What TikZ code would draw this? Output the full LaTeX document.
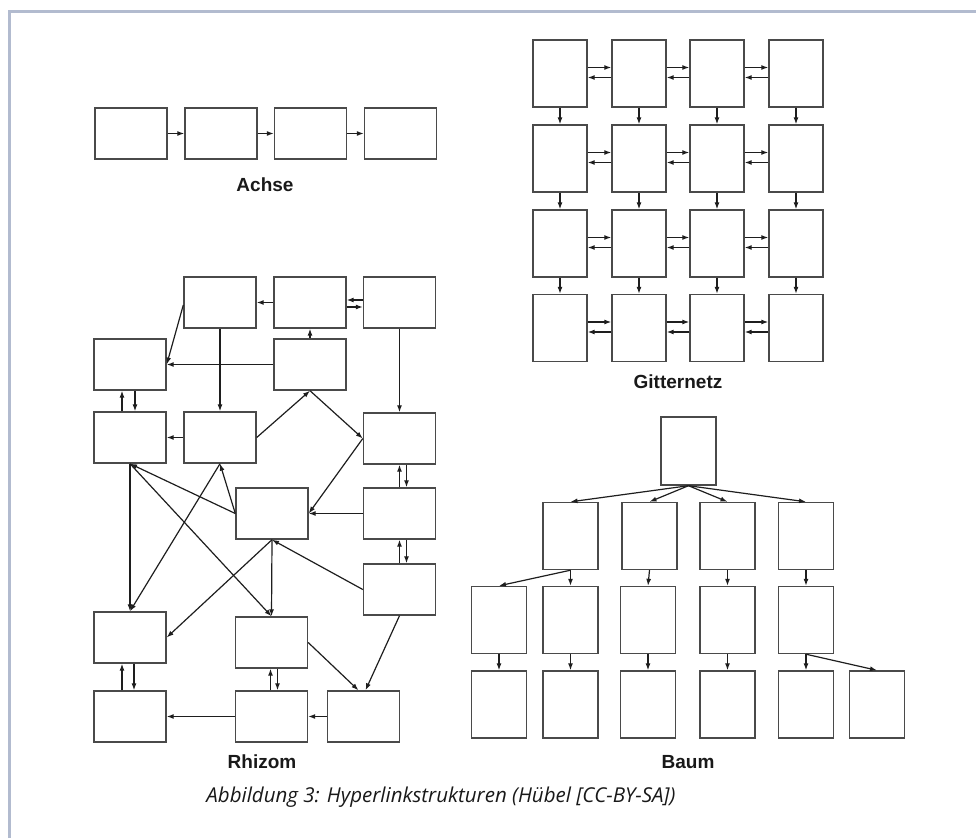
\documentclass[tikz,border=0pt]{standalone}
\usepackage{fontspec}
\usetikzlibrary{arrows.meta}
\newfontfamily\labelfont{Liberation Sans}
\newfontfamily\captionfont{Open Sans}
\definecolor{framecol}{HTML}{B2BBCF}
\definecolor{boxcol}{HTML}{4A4A4A}
\definecolor{arrcol}{HTML}{1E1E1E}

\begin{document}
\begin{tikzpicture}[x=1pt,y=-1pt,
    title/.style={font=\labelfont\bfseries\fontsize{19}{22}\selectfont, text=black!90},
    every edge/.style={draw=arrcol, line width=1.2pt, -{Latex[length=7pt,width=5pt]}}]

  \useasboundingbox (0,0) rectangle (976,838);
  \draw[framecol, line width=3pt] (9.5,838) -- (9.5,11.5) -- (976,11.5);

  % Achse
  \begin{scope}[every node/.style={draw=boxcol, line width=1.4pt, minimum width=72pt, minimum height=51pt}]
    \node (a1) at (131,133.5)   {};
    \node (a2) at (221,133.5)   {};
    \node (a3) at (310.5,133.5) {};
    \node (a4) at (400.5,133.5) {};
  \end{scope}
  \path (a1) edge (a2)
        (a2) edge (a3)
        (a3) edge (a4);
  \node[title] (achse) at (265,185) {Achse};

  % Gitternetz
  \begin{scope}[every node/.style={draw=boxcol, line width=1.4pt, minimum width=54pt, minimum height=67pt}]
    \foreach \r/\y in {1/73.5,2/158.5,3/243.5,4/328}
      \foreach \c/\x in {1/560,2/639,3/717,4/796}
        \node (g\r\c) at (\x,\y) {};
  \end{scope}
  \foreach \r in {1,...,4}
    \foreach \c/\n in {1/2,2/3,3/4} {
      \path ([yshift=6pt]g\r\c.east) edge ([yshift=6pt]g\r\n.west);
      \path ([yshift=-4pt]g\r\n.west) edge ([yshift=-4pt]g\r\c.east);
    }
  \foreach \r/\n in {1/2,2/3,3/4}
    \foreach \c in {1,...,4}
      \path (g\r\c.south) edge (g\n\c.north);
  \node[title] (gitter) at (678,382) {Gitternetz};

  % Baum
  \begin{scope}[every node/.style={draw=boxcol, line width=1.4pt, minimum width=55pt, minimum height=67pt}]
    \node[minimum height=68pt] (b0) at (688.5,451) {};
    \foreach \i/\x in {1/570.5,2/649.5,3/727.5,4/806}
      \node (b2\i) at (\x,536) {};
    \foreach \i/\x in {1/499,2/570.5,3/648,4/727.5,5/806}
      \node (b3\i) at (\x,620) {};
    \foreach \i/\x in {1/499,2/570.5,3/648,4/727.5,5/806,6/877}
      \node (b4\i) at (\x,704.5) {};
  \end{scope}
  \foreach \i in {1,...,4}
    \path (b0.south) edge (b2\i.north);
  \path (b21.south) edge (b31.north);
  \foreach \i/\j in {1/2,2/3,3/4,4/5}
    \path (b2\i.south) edge (b3\j.north);
  \foreach \i in {1,...,5}
    \path (b3\i.south) edge (b4\i.north);
  \path (b35.south) edge (b46.north);
  \node[title] (baum) at (688,762) {Baum};

  % Rhizom
  \begin{scope}[every node/.style={draw=boxcol, line width=1.4pt, minimum width=72pt, minimum height=51pt}]
    \node (r1)  at (220,302.5)   {};
    \node (r2)  at (310,302.5)   {};
    \node (r3)  at (399.5,302.5) {};
    \node (r4)  at (130,364.5)   {};
    \node (r5)  at (310,364.5)   {};
    \node (r6)  at (130,437.5)   {};
    \node (r7)  at (220,437.5)   {};
    \node (r8)  at (399.5,438.5) {};
    \node (r9)  at (272,513.5)   {};
    \node (r10) at (399.5,513.5) {};
    \node (r11) at (399.5,589.5) {};
    \node (r12) at (130,637.5)   {};
    \node (r13) at (271.5,642.5) {};
    \node (r14) at (130,716.5)   {};
    \node (r15) at (271.5,716.5) {};
    \node (r16) at (363.5,716.5) {};
  \end{scope}

  \path (r2) edge (r1)
        ([yshift=2.5pt]r3.west) edge ([yshift=2.5pt]r2.east)
        ([yshift=-4.5pt]r2.east) edge ([yshift=-4.5pt]r3.west)
        ([yshift=-2.5pt]r1.west) edge (r4.east)
        (r5.west) edge (r4.east)
        (r5.north) edge (r2.south)
        (r1.south) edge (r7.north)
        (r3.south) edge (r8.north)
        ([xshift=-8pt]r6.north) edge ([xshift=-8pt]r4.south)
        ([xshift=5pt]r4.south) edge ([xshift=5pt]r6.north)
        (r7.west) edge (r6.east)
        (r7.east) edge (r5.south)
        (r5.south) edge (r8.west)
        (r8.west) edge (r9.east)
        (r10.west) edge (r9.east)
        (r10.north) edge (r8.south)
        ([xshift=7pt]r8.south) edge ([xshift=7pt]r10.north)
        (r11.north) edge (r10.south)
        ([xshift=7pt]r10.south) edge ([xshift=7pt]r11.north)
        (r9.west) edge (r6.south)
        (r9.west) edge (r7.south)
        (r7.south) edge (r12.north)
        (r6.south) edge (r12.north)
        (r6.south) edge (r13.north)
        (r9.south) edge (r13.north)
        (r9.south) edge (r12.east)
        (r11.west) edge (r9.south)
        ([xshift=-8pt]r14.north) edge ([xshift=-8pt]r12.south)
        ([xshift=4pt]r12.south) edge ([xshift=4pt]r14.north)
        ([xshift=-1pt]r15.north) edge ([xshift=-1pt]r13.south)
        ([xshift=6pt]r13.south) edge ([xshift=6pt]r15.north)
        (r13.east) edge ([xshift=-5pt]r16.north)
        (r11.south) edge ([xshift=2pt]r16.north)
        (r16.west) edge (r15.east)
        (r15.west) edge (r14.east);
  \node[title] (rhizom) at (262,762) {Rhizom};

  \node[font=\captionfont\itshape\fontsize{20.5}{24}\selectfont, text=black!90] (caption) at (441,797)
    {Abbildung 3: Hyperlinkstrukturen (Hübel [CC-BY-SA])};

\end{tikzpicture}
\end{document}
